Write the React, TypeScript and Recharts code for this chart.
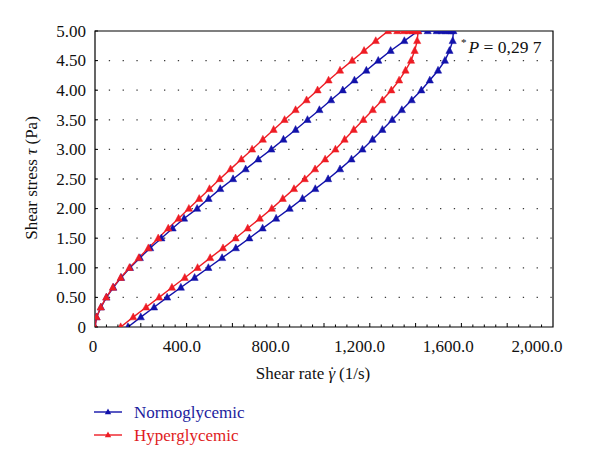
import React from 'react';
import { LineChart, Line, XAxis, YAxis, ReferenceLine, ReferenceArea } from 'recharts';

// Shear stress levels of the ramp (Pa)
const stressLevels = [
  0, 0.167, 0.333, 0.5, 0.667, 0.833, 1.0, 1.167, 1.333, 1.5, 1.667, 1.833, 2.0, 2.167, 2.333,
  2.5, 2.667, 2.833, 3.0, 3.167, 3.333, 3.5, 3.667, 3.833, 4.0, 4.167, 4.333, 4.5, 4.667, 4.833, 5.0,
];
const topStress = 5.0;

// Normoglycemic: shear rate (1/s) on the up ramp, plateau at 5 Pa, down ramp (from 5 Pa to 0)
const normoUpRate = [
  0, 7, 26, 50, 80, 114, 153, 196, 241, 290, 339, 389, 446, 496, 547, 603, 658, 713, 770, 823,
  876, 928, 980, 1031, 1082, 1133, 1185, 1237, 1291, 1351, 1411,
];
const normoPlateauRate = [1453, 1492, 1514, 1531, 1547, 1557];
const normoDownRate = [
  1565, 1562, 1548, 1528, 1498, 1462, 1425, 1383, 1340, 1298, 1255, 1212, 1168, 1120, 1070, 1018,
  962, 906, 850, 791, 732, 674, 615, 555, 495, 435, 375, 315, 258, 200, 144,
];

// Hyperglycemic
const hyperUpRate = [
  0, 7, 25, 49, 78, 112, 150, 191, 233, 276, 320, 365, 410, 455, 500, 545, 592, 639, 686, 733,
  780, 828, 876, 924, 972, 1020, 1070, 1123, 1175, 1226, 1280,
];
const hyperPlateauRate = [1320, 1349, 1371, 1387, 1400];
const hyperDownRate = [
  1411, 1407, 1396, 1380, 1356, 1328, 1294, 1255, 1213, 1172, 1130, 1090, 1050, 1005, 961, 916,
  869, 820, 772, 720, 667, 614, 559, 503, 448, 392, 336, 280, 223, 167, 112,
];

const seriesNames = ['Normoglycemic', 'Hyperglycemic'];
const seriesColors = ['#1212AA', '#EE1C24'];
const legendTextColors = ['#1C1C9E', '#E01B22'];

const xLabelValues = [0, 400, 800, 1200, 1600, 2000];
const xLabels = ['0', '400.0', '800.0', '1,200.0', '1,600.0', '2,000.0'];
const yTickValues = [0, 0.5, 1, 1.5, 2, 2.5, 3, 3.5, 4, 4.5, 5];
const yLabels = ['0', '0.50', '1.00', '1.50', '2.00', '2.50', '3.00', '3.50', '4.00', '4.50', '5.00'];
const gridValues = [0.5, 1, 1.5, 2, 2.5, 3, 3.5, 4, 4.5];
const xMinorTicks = Array.from({ length: 41 }, (_, i) => i * 50);

const buildLoop = (up: number[], plateau: number[], down: number[]) => {
  const pts: { x: number; y: number }[] = [];
  up.forEach((r, i) => pts.push({ x: r, y: stressLevels[i] }));
  plateau.forEach((r) => pts.push({ x: r, y: topStress }));
  const rev = [...stressLevels].reverse();
  down.forEach((r, i) => pts.push({ x: r, y: rev[i] }));
  return pts;
};

const normoData = buildLoop(normoUpRate, normoPlateauRate, normoDownRate);
const hyperData = buildLoop(hyperUpRate, hyperPlateauRate, hyperDownRate);

const FONT = "'Liberation Serif', 'Times New Roman', 'DejaVu Serif', serif";
const textStyle = { fontFamily: FONT } as React.CSSProperties;

const makeTriangle = (color: string) => (props: any) => {
  const { cx, cy, index } = props;
  if (cx == null || cy == null) return <g key={index} />;
  const s = 3.6;
  return (
    <polygon
      key={index}
      points={`${cx},${cy - s * 1.15} ${cx - s},${cy + s * 0.75} ${cx + s},${cy + s * 0.75}`}
      fill={color}
      stroke={color}
      strokeWidth={0.5}
    />
  );
};

const XTick = (props: any) => {
  const { x, y, payload } = props;
  const v = payload.value;
  const major = v % 200 === 0;
  const idx = xLabelValues.indexOf(v);
  return (
    <g>
      {v !== 0 && v !== 2000 && (
        <line x1={x} x2={x} y1={y} y2={y - (major ? 4 : 2.5)} stroke="#000" strokeWidth={1} />
      )}
      {idx >= 0 && (
        <text
          x={x - 2 - v * 0.007}
          y={y + 25}
          textAnchor="middle"
          style={textStyle}
          fontSize={17}
          fill="#111"
        >
          {xLabels[idx]}
        </text>
      )}
    </g>
  );
};

const YTick = (props: any) => {
  const { x, y, payload } = props;
  const idx = yTickValues.indexOf(payload.value);
  return (
    <g>
      <line x1={x} x2={x + 3} y1={y} y2={y} stroke="#000" strokeWidth={1} />
      {idx >= 0 && (
        <text x={x - 9} y={y + 5.8} textAnchor="end" style={textStyle} fontSize={17} fill="#111">
          {yLabels[idx]}
        </text>
      )}
    </g>
  );
};

export default function App() {
  const datasets = [normoData, hyperData];
  return (
    <div style={{ position: 'absolute', left: 0, top: 0, width: 600, height: 467, background: '#fff' }}>
      <LineChart width={600} height={467} margin={{ top: 31, right: 47, left: 0, bottom: 110 }}>
        <XAxis
          dataKey="x"
          type="number"
          domain={[0, 2000]}
          ticks={xMinorTicks}
          interval={0}
          tick={<XTick />}
          tickLine={false}
          axisLine={false}
          tickSize={0}
          tickMargin={0}
          height={30}
          allowDataOverflow
        />
        <YAxis
          dataKey="y"
          type="number"
          domain={[0, 5]}
          ticks={yTickValues}
          interval={0}
          tick={<YTick />}
          tickLine={false}
          axisLine={false}
          tickSize={0}
          tickMargin={0}
          width={95}
          allowDataOverflow
        />
        {gridValues.map((g) => (
          <ReferenceLine
            key={g}
            y={g}
            stroke="#3a3a3a"
            strokeWidth={1.3}
            strokeDasharray="1.3 12.5"
          />
        ))}
        <ReferenceArea x1={0} x2={2000} y1={0} y2={5} fill="none" stroke="#000" strokeWidth={1.2} />
        {datasets.map((d, i) => (
          <Line
            key={seriesNames[i]}
            data={d}
            dataKey="y"
            name={seriesNames[i]}
            type="linear"
            stroke={seriesColors[i]}
            strokeWidth={1.4}
            dot={makeTriangle(seriesColors[i])}
            activeDot={false}
            isAnimationActive={false}
          />
        ))}
      </LineChart>
      <svg
        width={600}
        height={467}
        style={{ position: 'absolute', left: 0, top: 0, pointerEvents: 'none' }}
      >
        <text
          transform="translate(36.5,178) rotate(-90)"
          textAnchor="middle"
          style={textStyle}
          fontSize={17}
          fill="#111"
        >
          Shear stress <tspan fontStyle="italic">τ</tspan> (Pa)
        </text>
        <text x={313} y={379} textAnchor="middle" style={textStyle} fontSize={17} fill="#111">
          Shear rate <tspan fontStyle="italic">γ</tspan>
          <tspan dx={-6} dy={-1.5}>˙</tspan>
          <tspan dy={1.5}> (1/s)</tspan>
        </text>
        <text x={461} y={53} style={textStyle} fontSize={17.5} fill="#111">
          <tspan fontSize={11} dy={-7}>*</tspan>
          <tspan fontStyle="italic" dy={7} dx={2}>P</tspan>
          <tspan> = 0,29 7</tspan>
        </text>
        {seriesNames.map((n, i) => {
          const cy = 412 + i * 23;
          return (
            <g key={n}>
              <line x1={94} x2={122} y1={cy} y2={cy} stroke={seriesColors[i]} strokeWidth={1.4} />
              <polygon
                points={`108,${cy - 3.6} 104.8,${cy + 2.2} 111.2,${cy + 2.2}`}
                fill={seriesColors[i]}
              />
              <text x={134} y={cy + 5.8} style={textStyle} fontSize={17} fill={legendTextColors[i]}>
                {n}
              </text>
            </g>
          );
        })}
      </svg>
    </div>
  );
}
